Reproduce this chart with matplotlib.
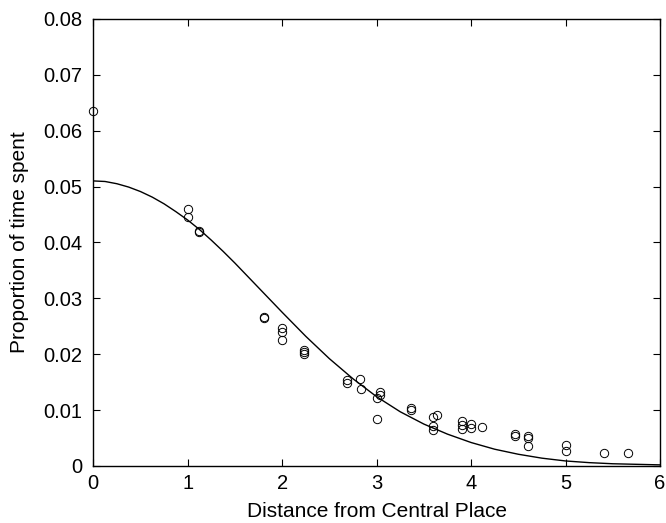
import numpy as np
import matplotlib
matplotlib.use("Agg")
import matplotlib.pyplot as plt

plt.rcParams['font.family'] = ['Liberation Sans', 'DejaVu Sans']

# observed proportions of time spent vs. distance from central place
dist_obs = [0.0, 1.0, 1.0, 1.12, 1.12, 1.81, 1.81, 2.0, 2.0, 2.0,
            2.23, 2.23, 2.23, 2.69, 2.69, 2.82, 2.83, 3.04, 3.04, 3.0,
            3.0, 3.36, 3.36, 3.6, 3.64, 3.6, 3.6, 3.9, 3.9, 3.9,
            4.0, 4.0, 4.12, 4.47, 4.47, 4.6, 4.6, 4.6, 5.0, 5.0,
            5.41, 5.66]
prop_obs = [0.0635, 0.0459, 0.0446, 0.0419, 0.0421, 0.0267, 0.0264, 0.0246, 0.0240, 0.0225,
            0.0208, 0.0204, 0.0200, 0.0154, 0.0148, 0.0156, 0.0137, 0.0133, 0.0127, 0.0121,
            0.0084, 0.0104, 0.0101, 0.0088, 0.0092, 0.0072, 0.0065, 0.0081, 0.0073, 0.0067,
            0.0075, 0.0068, 0.0069, 0.0057, 0.0054, 0.0054, 0.0050, 0.0035, 0.0038, 0.0027,
            0.0024, 0.0024]

# fitted curve
dist_fit = [0.0, 0.125, 0.25, 0.375, 0.5, 0.625, 0.75, 0.875, 1.0, 1.125, 1.25,
            1.375, 1.5, 1.625, 1.75, 1.875, 2.0, 2.25, 2.5, 2.75,
            3.0, 3.25, 3.5, 3.75, 4.0, 4.25, 4.5, 4.75, 5.0, 5.25, 5.5, 5.75, 6.0]
prop_fit = [0.0510, 0.0509, 0.0505, 0.0499, 0.0491, 0.0481, 0.0469, 0.0455, 0.0440,
            0.0423, 0.0404, 0.0384, 0.0363, 0.0341, 0.0319, 0.0297, 0.0275,
            0.0232, 0.0192, 0.0156, 0.0124, 0.0097, 0.0075, 0.0057, 0.0042, 0.0030,
            0.0021, 0.0014, 0.0009, 0.0006, 0.0004, 0.0003, 0.0002]

x_ticks = [0, 1, 2, 3, 4, 5, 6]
y_ticks = [0, 0.01, 0.02, 0.03, 0.04, 0.05, 0.06, 0.07, 0.08]
y_labels = ['0', '0.01', '0.02', '0.03', '0.04', '0.05', '0.06', '0.07', '0.08']

fig = plt.figure(figsize=(6.66, 5.23), dpi=100)
ax = fig.add_axes([0.140, 0.109, 0.851, 0.855])

ax.plot(dist_fit, prop_fit, color='black', linewidth=1.0)
ax.plot(dist_obs, prop_obs, linestyle='none', marker='o', markersize=6,
        markerfacecolor='none', markeredgecolor='black', markeredgewidth=0.7,
        clip_on=False)

ax.set_xlim(0, 6)
ax.set_ylim(0, 0.08)
ax.set_xticks(x_ticks)
ax.set_xticklabels([str(t) for t in x_ticks])
ax.set_yticks(y_ticks)
ax.set_yticklabels(y_labels)
ax.tick_params(direction='in', length=5, width=0.8, top=True, right=True,
               labelsize=14.5)
ax.tick_params(axis='y', pad=8)
ax.tick_params(axis='x', pad=6)
for s in ax.spines.values():
    s.set_linewidth(1.0)

ax.set_xlabel("Distance from Central Place", fontsize=15, labelpad=6)
ax.set_ylabel("Proportion of time spent", fontsize=15, labelpad=10)

plt.savefig("out.png", dpi=100)
